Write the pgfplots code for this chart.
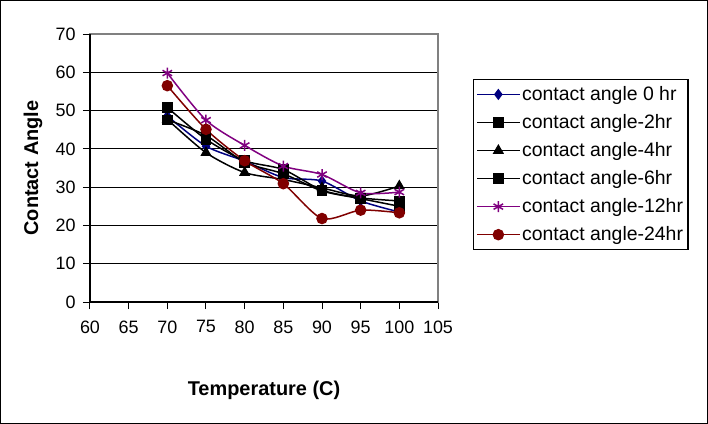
\documentclass[border=0pt]{standalone}
\usepackage{pgfplots}
\pgfplotsset{compat=1.18}
\usepackage{fontspec}
\setmainfont{Liberation Sans}
\definecolor{navyline}{RGB}{0,0,128}
\definecolor{purpleline}{RGB}{128,0,128}
\definecolor{maroonline}{RGB}{128,0,0}
\begin{document}
\begin{tikzpicture}
\begin{axis}[
  scale only axis, width=348bp, height=268bp,
  xmin=60, xmax=105, ymin=0, ymax=70,
  xtick={60,65,...,105}, ytick={0,10,...,60},
  extra y ticks={70}, extra y tick style={grid=none},
  ymajorgrids, grid style={black, line width=1bp},
  axis line style={gray, line width=1.2bp},
  tick style={black, line width=1bp},
  tick align=outside, major tick length=7bp,
  xtick pos=bottom, ytick pos=left,
  /pgf/number format/assume math mode=true,
  ticklabel style={font=\fontsize{18}{20}\selectfont},
  xticklabel style={yshift=-8bp},
  yticklabel style={xshift=-4bp},
  xlabel={\bfseries Temperature (C)},
  ylabel={\bfseries Contact Angle},
  label style={font=\fontsize{20}{23}\selectfont},
  xlabel style={at={(rel axis cs:0.5,-0.328)}, anchor=center},
  ylabel style={at={(rel axis cs:-0.1638,0.5)}, anchor=center},
  legend style={at={(1.1006,0.832)}, anchor=north west, draw=black, line width=1.2bp,
    font=\fontsize{19.5}{22}\selectfont, row sep=8.5bp, inner xsep=3bp, inner ysep=5bp,
    cells={anchor=west}},
  legend image code/.code={%
    \draw[mark repeat=2, mark phase=2] plot coordinates {(0bp,0bp) (21bp,0bp) (42bp,0bp)};},
  every axis plot/.append style={line width=1.5bp, smooth, tension=0.45},
  clip=false,
]
\addplot[navyline, mark=diamond*, mark size=4.5bp, mark options={fill=navyline}] coordinates {
  (70,48.6) (75,40.7) (80,36.8) (85,32.5) (90,31.6) (95,26.4) (100,23.5)};
\addlegendentry{contact angle 0 hr}
\addplot[black, mark=square*, mark size=4.5bp] coordinates {
  (70,50.8) (75,42.5) (80,36.9) (85,34.6) (90,29.2) (95,27.2) (100,26.4)};
\addlegendentry{contact angle-2hr}
\addplot[black, mark=triangle*, mark size=5bp] coordinates {
  (70,47.7) (75,39.0) (80,33.8) (85,32.0) (90,29.8) (95,27.7) (100,30.3)};
\addlegendentry{contact angle-4hr}
\addplot[black, mark=square*, mark size=4.5bp] coordinates {
  (70,47.6) (75,43.5) (80,36.5) (85,33.5) (90,29.0) (95,27.0) (100,25.0)};
\addlegendentry{contact angle-6hr}
\addplot[purpleline, mark=asterisk, mark size=5.5bp, mark options={line width=1.5bp}] coordinates {
  (70,59.8) (75,47.5) (80,40.9) (85,35.5) (90,33.3) (95,28.5) (100,28.7)};
\addlegendentry{contact angle-12hr}
\addplot[maroonline, mark=*, mark size=5bp, mark options={fill=maroonline}] coordinates {
  (70,56.5) (75,45.1) (80,36.9) (85,30.9) (90,21.8) (95,24.0) (100,23.3)};
\addlegendentry{contact angle-24hr}
% black left and bottom axis lines over the grey plot-area border
\draw[black, line width=1.5bp] (rel axis cs:0,1) -- (rel axis cs:0,0) -- (rel axis cs:1,0);
% corners of the chart area around the plot
\coordinate (F1) at (rel axis cs:-0.25862,-0.45522);
\coordinate (F2) at (rel axis cs:1.77586,1.12687);
\coordinate (G1) at (rel axis cs:-0.25690,-0.45298);
\coordinate (G2) at (rel axis cs:1.77414,1.12463);
\end{axis}
\pgfresetboundingbox
\path[use as bounding box] (F1) rectangle (F2);
\draw[black, line width=1.2bp] (G1) rectangle (G2);
\end{tikzpicture}
\end{document}
